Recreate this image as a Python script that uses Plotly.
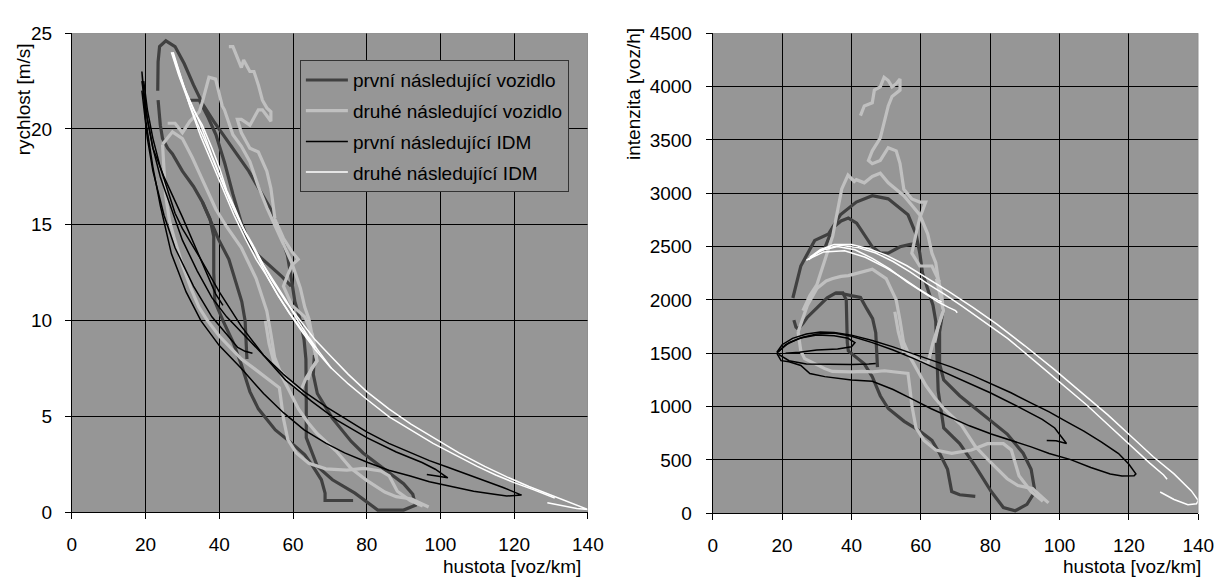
import plotly.graph_objects as go

# ---------------- LEFT PANEL: density [voz/km] vs speed [m/s] ----------------
# first following vehicle (measured)
first_veh_speed_1 = [(23.3,22.0),(23.4,23.5),(23.8,24.3),(25.5,24.6),(28,24.3),(30.5,23.4),(33,22.3),(35.5,21.3),(38.5,20.4),(41.5,19.6),(45,18.6),(48,17.8),(51,16.8),(54,15.8),(56.5,14.6),(58.5,13.4),(59.7,12.0),(60.5,11.0),(62,10.0),(63,9.0),(63.5,8.0),(63.6,7.0),(63.6,5.7),(63.6,3.9),(66.6,2.4),(70.7,1.7),(76.8,1.0),(83,0.12),(90,0.12),(93.2,0.37),(92.5,0.95),(90,1.5),(84,2.4),(79,3.1),(75.8,3.7),(70.7,4.9),(66.6,6.2),(65.5,7.2),(65.8,8.2)]
first_veh_speed_2 = [(23.4,21.5),(24,20.2),(24.6,19.5),(26,19.0),(27.3,18.7),(30,17.8),(33,17.0),(35.4,16.2),(37.5,15.3),(38.5,14.4),(38.5,12.5),(38.8,11.0),(41,10.0),(43.7,8.9),(46,7.7),(48.3,6.3),(50.6,5.4),(55.2,4.3),(59.7,3.6),(63.2,3.0),(65.4,2.4),(67.7,1.7),(68.7,1.0),(68.7,0.62),(72,0.62),(76.3,0.62)]
first_veh_speed_3 = [(35.4,16.2),(37.2,15.4),(39.9,14.2),(42.6,13.2),(44.4,12.0),(46.1,11.0),(47,10.0),(47.2,9.0),(47.5,8.0)]
first_veh_speed_4 = [(32,21.5),(34.6,21.5),(37,20.6),(39.1,19.7),(41.5,18.2),(43.7,16.6),(46,15.1),(48.3,14.0),(50.6,13.4),(54,12.8),(57,12.3),(59.5,11.8)]

# second following vehicle (measured)
second_veh_speed_1 = [(42.6,24.3),(43.7,24.3),(46,23.2),(46.6,23.6),(48.3,23.0),(49.4,23.0),(50.6,22.3),(51.7,21.5),(52.9,21.1),(54,20.9),(54,20.4),(51.7,21.0),(50.6,21.0),(49.4,20.6),(48.3,20.2),(46,20.5),(44.9,20.5),(46,19.8),(48.3,19.0),(50.6,18.8),(52.9,17.8),(54,16.9),(55.1,15.3),(57.4,14.3),(59.7,13.6),(61.4,13.2),(59.7,12.9),(58.6,12.4),(57.4,11.8),(59.7,10.8),(63.2,10.2),(65.4,9.2)]
second_veh_speed_2 = [(26,20.3),(28,20.3),(30,19.8),(32,20.4),(34.6,20.9),(35.4,21.4),(37.2,22.7),(39,22.6),(40.8,21.2),(41.4,21.0),(43.7,19.7),(46,19.1),(48.3,18.3),(50.6,17.0),(52.9,15.9),(55.1,15.0),(57.4,14.0),(59.7,13.0),(62,11.7),(63.2,10.7),(64.3,10.1),(65,9.4),(66,8.6),(66.5,7.9),(65,7.5),(64,6.9)]
second_veh_speed_3 = [(24.6,19.2),(25,18),(25.4,16.6),(26.5,15.2),(27.7,14.35),(30,12.9),(32.3,11.7),(34.5,10.7),(36.8,10.0),(40,9.2),(43,8.6),(46,8.0),(49.5,7.5),(52.8,7.0),(56.3,6.5),(57,5.5),(57.4,4.9),(58.6,3.8),(60.9,3.1),(64.3,2.56),(68.9,2.27),(74.6,2.2),(79.2,2.29),(83.8,2.16),(86.1,1.9),(88.3,1.1),(91.8,0.62),(95.2,0.33)]
second_veh_speed_4 = [(24.6,19.2),(27.3,19.85),(30,19.5),(32.7,18.5),(34.6,17.7),(37,16.7),(39.1,15.8),(42,14.9),(46,13.8),(50,12.2),(52.9,10.5),(54,9.3),(55,8.1),(57,7.1),(61.5,5.4),(64,4.7),(66.6,4.1),(71.7,3.2),(75.7,2.3),(80,1.67),(84.9,1.06),(88,0.82),(92.2,0.7),(94,0.53),(96.8,0.28)]
second_veh_speed_5 = [(52.5,10.0),(53.5,8.8),(55,7.7),(57.4,7.2),(59.7,6.7),(62,6.3),(63.5,7.0),(65.5,7.6),(66.5,7.9),(65.5,8.7),(64.5,9.5)]

# first following IDM (simulated)
first_idm_speed_1 = [(19,23),(19.5,22),(20.5,20.5),(22,19),(24,17.5),(27,15.8),(30,14.2),(34,12.6),(38,11.2),(42,10.2),(46,9.4),(52,8.2),(57.4,7.2),(63,6.3),(69,5.5),(75,4.8),(80,4.2),(86,3.6),(92,3.1),(97,2.7),(102,2.35),(107,2.0),(112,1.65),(117,1.3),(122,0.9),(118,0.85),(114.6,0.95),(109,1.1),(103,1.35),(97,1.6),(91.8,1.9),(86,2.2),(80.3,2.6),(74,3.1),(69,3.6),(63,4.3),(57.4,5.2),(52,6.2),(46,7.5),(40,8.7),(35,10),(31,11.5),(27,13.5),(24,16),(22,18),(20,20.5),(19,23)]
first_idm_speed_2 = [(19.5,22.5),(20.5,21),(22,19.5),(24,18),(26,16.8),(28,15.6),(30,14.8),(35,13.2),(40,11.5),(46,9.7),(52,8.2),(58,6.9),(65,5.8),(72,4.8),(80,3.9),(88,3.15),(95,2.6),(98.6,2.25),(100.5,2.0),(102,1.8),(99,1.9),(96.3,1.97)]
first_idm_speed_3 = [(19,22.5),(20.5,20.5),(22,19),(25,17.5),(30,15.4),(35,13.2),(39,11.4),(41,10.8)]
first_idm_speed_4 = [(19,22),(20.5,19.5),(22,17.8),(25,15.5),(28,13.8),(33,11.8),(38,10.2),(42,9.3),(45,8.6),(47,8.4),(49,8.3)]

# second following IDM (simulated)
second_idm_speed_1 = [(27.3,24),(29,23),(31,21.9),(33,21),(35.4,20.2),(38,19),(40,18),(42,16.8),(44.4,15.8),(47,14.6),(50,13.5),(53,12.3),(56,11.3),(59,10.4),(62.5,9.4),(66,8.5),(70,7.6),(75,6.7),(80,5.9),(86,5.0),(92,4.3),(98,3.6),(104,3.0),(110,2.4),(115,1.95),(120,1.55),(125,1.2),(130,0.85),(131,0.75)]
second_idm_speed_2 = [(27.5,23.8),(29.5,22.6),(32,21.5),(35,20.2),(38,18.6),(41,17.2),(44,15.8),(47,14.6),(50,13.6),(54,12.2),(58,11),(62,10),(66,9),(70,8.2),(75,7.2),(80,6.3),(86,5.4),(92,4.6),(98,3.9),(105,3.1),(112,2.4),(118,1.85),(124,1.35),(130,0.9),(135,0.55),(139,0.25),(140,0.15),(137,0.2),(133,0.35),(129,0.5)]
second_idm_speed_3 = [(27,24),(29,22.8),(31.5,21.5),(34,20.3),(37,19),(40,17.6),(43,16.2),(46,15),(49,14),(52,12.9),(55,12),(58,11.1),(61,10.1),(64,9.2),(67,8.4),(69,7.9),(70.5,7.5)]
second_idm_speed_4 = [(27.5,24),(29.5,22.8),(32,21.2),(35,19.6),(38,18.2),(41,16.8),(44,15.5),(47,14.3),(50,13.2),(53,12.3),(56,11.3),(59,10.4),(62,9.6),(64.5,9),(66,8.6)]

# ---------------- RIGHT PANEL: density [voz/km] vs flow [voz/h] ----------------
first_veh_flow_1 = [(23.1,2018),(25.4,2318),(29.4,2558),(33.4,2618),(36.8,2797),(41.4,2917),(46,2977),(50.6,2947),(56.3,2797),(58.6,2617),(59.7,2438),(60.5,2250),(62,2100),(63.5,1950),(64.3,1800),(64.5,1600),(64.8,1350),(65,1150),(66.6,800),(71.2,653),(75.7,443),(80.3,204),(83.8,54),(87.2,24),(90.6,84),(92.9,204),(91.8,413),(89.5,563),(84.9,743),(79.2,892),(74.6,1012),(71.2,1102),(66.6,1251),(65.4,1401),(65.4,1700),(66.6,1940)]
first_veh_flow_2 = [(23.4,1811),(24,1745),(24.6,1727),(26,1778),(27.3,1838),(30,1922),(33,2020),(35.4,2064),(37.5,2066),(38.5,2000),(38.6,1800),(38.8,1600),(39.1,1521),(43.7,1401),(46,1281),(48.3,1102),(50.6,982),(55.2,862),(59.7,772),(63.2,683),(65.4,563),(67.7,413),(68.9,204),(71.2,174),(75.7,159)]
first_veh_flow_3 = [(35.4,2064),(37.2,2060),(39.9,2040),(42.6,2024),(44.4,1918),(46.1,1825),(47,1692),(47.2,1530),(47.5,1370)]
first_veh_flow_4 = [(32,2460),(34.6,2677),(37,2740),(39.1,2767),(41.5,2720),(43.7,2617),(46,2498),(48.3,2440),(50.6,2438),(54,2498),(57,2520),(59.5,2530)]

second_veh_flow_1 = [(42.6,3727),(43.7,3817),(46,3847),(46.6,3966),(48.3,3996),(49.4,4086),(50.6,4056),(51.7,3996),(52.9,4026),(54,4071),(54,3966),(51.7,3906),(50.6,3817),(49.4,3667),(48.3,3517),(46,3397),(44.9,3307),(46,3277),(48.3,3307),(50.6,3427),(52.9,3397),(54,3277),(55.1,3037),(57.4,2947),(59.7,2917),(61.4,2917),(59.7,2767),(58.6,2617),(57.4,2438),(59.7,2318),(63.2,2318),(65.4,2168)]
second_veh_flow_2 = [(26,1900),(28,2040),(30,2140),(32,2350),(34.6,2600),(35.4,2737),(37.2,3040),(39,3170),(40.8,3110),(41.4,3127),(43.7,3097),(46,3157),(48.3,3187),(50.6,3097),(52.9,3037),(55.1,2977),(57.4,2887),(59.7,2797),(62,2617),(63.2,2438),(64.3,2348),(65,2200),(66,2050),(66.5,1900),(65,1750),(64,1600)]
second_veh_flow_3 = [(24.6,1700),(25,1620),(25.4,1521),(26.5,1450),(27.7,1431),(30,1393),(32.3,1356),(34.5,1330),(36.8,1326),(40,1325),(43,1331),(46,1326),(49.5,1336),(52.8,1326),(56.3,1311),(57,1130),(57.4,1012),(58.6,802),(60.9,683),(64.3,593),(68.9,563),(74.6,593),(79.2,653),(83.8,653),(86.1,593),(88.3,353),(91.8,204),(95.2,114)]
second_veh_flow_4 = [(24.6,1700),(27.3,1950),(30,2106),(32.7,2178),(34.6,2200),(37,2220),(39.1,2228),(42,2250),(46,2288),(50,2200),(52.9,2000),(54,1808),(55,1604),(57,1457),(61.5,1195),(64,1083),(66.6,983),(71.7,826),(75.7,627),(80,481),(84.9,324),(88,260),(92.2,232),(94,179),(96.8,98)]
second_veh_flow_5 = [(52.5,1890),(53.5,1700),(55,1521),(57.4,1491),(59.7,1431),(62,1401),(63.5,1600),(65.5,1800),(66.5,1900),(65.5,2050),(64.5,2200)]

first_idm_flow_1 = [(18.5,1510),(20,1580),(23,1640),(27,1680),(31,1700),(35,1695),(40,1670),(46,1620),(52,1560),(57.4,1500),(63,1440),(68.9,1370),(75,1290),(80,1220),(86,1130),(92,1030),(97,950),(102,860),(107,770),(112,670),(117,560),(120,460),(122,370),(121.5,353),(118,350),(114.6,368),(109,430),(103.2,503),(97,560),(91.8,623),(86,680),(80.3,743),(74,820),(68.9,892),(63,980),(57.4,1072),(52,1160),(46,1237),(40,1250),(32.3,1281),(28,1310),(25.4,1386),(22,1420),(19.7,1431),(18.5,1500)]
first_idm_flow_2 = [(19,1520),(22,1600),(26,1650),(30,1680),(35,1690),(40,1660),(46,1600),(52,1530),(58,1450),(65,1350),(72,1250),(80,1130),(88,1000),(95,880),(98.6,800),(100.5,720),(102,655),(99,680),(96.3,683)]
first_idm_flow_3 = [(18.5,1500),(21,1580),(25,1640),(30,1670),(35,1665),(39,1640),(41,1600),(40,1560),(36,1540),(30,1530),(25,1510),(21,1500)]
first_idm_flow_4 = [(19,1490),(22,1430),(27,1400),(33,1395),(40,1395),(45,1400),(47,1405)]

second_idm_flow_1 = [(27.7,2378),(30,2440),(33,2490),(37,2510),(42,2490),(47,2440),(52,2360),(57,2260),(62,2150),(67,2050),(72,1940),(78,1800),(85,1640),(92,1450),(100,1230),(108,1010),(115,800),(121,620),(126,470),(130,360),(131,320)]
second_idm_flow_2 = [(28,2400),(31,2470),(35,2520),(40,2520),(45,2480),(50,2420),(56,2320),(62,2200),(68,2080),(75,1930),(82,1770),(90,1570),(98,1360),(106,1140),(114,920),(121,710),(127,530),(133,370),(138,210),(140,120),(139.5,90),(137,80),(133,130),(129,200)]
second_idm_flow_3 = [(27,2370),(31,2460),(36,2500),(41,2470),(46,2390),(51,2290),(56,2170),(61,2060),(65,1980),(68,1930),(70,1900),(70.5,1880)]
second_idm_flow_4 = [(27.5,2380),(32,2450),(38,2460),(44,2400),(50,2300),(55,2200),(59,2110),(63,2030),(66,1980)]

series_names = ["první následující vozidlo", "druhé následující vozidlo",
                "první následující IDM", "druhé následující IDM"]

left_groups = [
    [first_veh_speed_1, first_veh_speed_2, first_veh_speed_3, first_veh_speed_4],
    [second_veh_speed_1, second_veh_speed_2, second_veh_speed_3, second_veh_speed_4, second_veh_speed_5],
    [first_idm_speed_1, first_idm_speed_2, first_idm_speed_3, first_idm_speed_4],
    [second_idm_speed_1, second_idm_speed_2, second_idm_speed_3, second_idm_speed_4],
]
right_groups = [
    [first_veh_flow_1, first_veh_flow_2, first_veh_flow_3, first_veh_flow_4],
    [second_veh_flow_1, second_veh_flow_2, second_veh_flow_3, second_veh_flow_4, second_veh_flow_5],
    [first_idm_flow_1, first_idm_flow_2, first_idm_flow_3, first_idm_flow_4],
    [second_idm_flow_1, second_idm_flow_2, second_idm_flow_3, second_idm_flow_4],
]

colors = ["#404040", "#c0c0c0", "#000000", "#ffffff"]
widths = [3.2, 3.2, 1.5, 1.5]


def join(tracks):
    xs, ys = [], []
    for t in tracks:
        for a, b in t:
            xs.append(a)
            ys.append(b)
        xs.append(None)
        ys.append(None)
    return xs, ys


fig = go.Figure()
for i, name in enumerate(series_names):
    xs, ys = join(left_groups[i])
    fig.add_trace(go.Scatter(x=xs, y=ys, mode="lines", name=name, legendgroup=name,
                             line=dict(color=colors[i], width=widths[i]),
                             connectgaps=False, xaxis="x", yaxis="y"))
for i, name in enumerate(series_names):
    xs, ys = join(right_groups[i])
    fig.add_trace(go.Scatter(x=xs, y=ys, mode="lines", name=name, legendgroup=name,
                             showlegend=False,
                             line=dict(color=colors[i], width=widths[i]),
                             connectgaps=False, xaxis="x2", yaxis="y2"))

W, H = 1232, 587
FAMILY = "Liberation Sans, Arial, sans-serif"
TICK_FONT = dict(family=FAMILY, size=19, color="black")
TITLE_FONT = dict(family=FAMILY, size=19, color="black")
LEGEND_FONT = dict(family=FAMILY, size=19, color="black")
axis_common = dict(showgrid=True, gridcolor="black", gridwidth=1, showline=True,
                   linecolor="black", linewidth=1, ticks="outside", ticklen=6,
                   tickcolor="black", zeroline=False, tickfont=TICK_FONT)

fig.update_layout(
    width=W, height=H, margin=dict(l=0, r=0, t=0, b=0),
    paper_bgcolor="white", plot_bgcolor="#969696", font=TICK_FONT,
    xaxis=dict(domain=[68 / W, 593 / W], range=[0, 140], dtick=20, anchor="y",
               ticklabelstandoff=9, **axis_common),
    yaxis=dict(domain=[1 - 521 / H, 1 - 24 / H], range=[0, 25], dtick=5, anchor="x",
               ticklabelstandoff=9, **axis_common),
    xaxis2=dict(domain=[720 / W, 1214 / W], range=[0, 140], dtick=20, anchor="y2",
                ticklabelstandoff=9, **axis_common),
    yaxis2=dict(domain=[1 - 522 / H, 1 - 24 / H], range=[0, 4500], dtick=500, anchor="x2",
                ticklabelstandoff=10, **axis_common),
    legend=dict(x=300 / W, y=1 - 52 / H, xanchor="left", yanchor="top",
                bgcolor="#969696", bordercolor="#333333", borderwidth=1,
                font=LEGEND_FONT, tracegroupgap=3, itemwidth=42),
    showlegend=True,
)

# plot-area border on top and right edges (grey, like the original)
for xr, yr, ymax in (("x", "y", 25), ("x2", "y2", 4500)):
    fig.add_shape(type="line", xref=xr, yref=yr, x0=0, x1=140, y0=ymax, y1=ymax,
                  line=dict(color="#808080", width=1), layer="above")
    fig.add_shape(type="line", xref=xr, yref=yr, x0=140, x1=140, y0=0, y1=ymax,
                  line=dict(color="#808080", width=1), layer="above")

annots = [
    dict(text="hustota [voz/km]", x=588 / W, y=1 - 577 / H, xanchor="right", yanchor="middle"),
    dict(text="hustota [voz/km]", x=1219 / W, y=1 - 577 / H, xanchor="right", yanchor="middle"),
    dict(text="rychlost [m/s]", x=19 / W, y=1 - 93 / H, xanchor="center", yanchor="middle", textangle=-90),
    dict(text="intenzita [voz/h]", x=640 / W, y=1 - 87 / H, xanchor="center", yanchor="middle", textangle=-90),
]
for a in annots:
    fig.add_annotation(xref="paper", yref="paper", showarrow=False, font=TITLE_FONT, **a)

fig.write_html("out.html")
